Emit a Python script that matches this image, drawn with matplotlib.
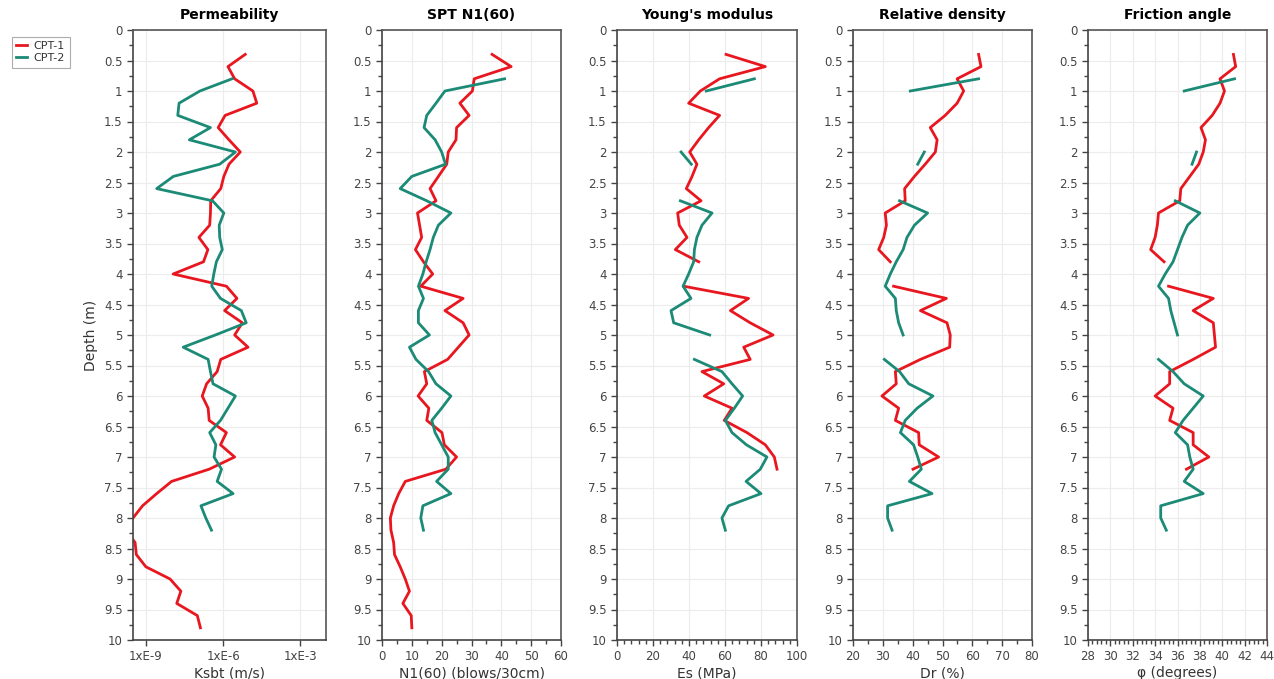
import numpy as np
import matplotlib
matplotlib.use("Agg")
import matplotlib.pyplot as plt
from matplotlib.ticker import MultipleLocator, NullLocator, FuncFormatter

nan = np.nan

# depths (m)
depth_1 = [0.4, 0.6, 0.8, 1.0, 1.2, 1.4, 1.6, 1.8, 2.0, 2.2, 2.4, 2.6, 2.8, 3.0, 3.2, 3.4,
           3.6, 3.8, 4.0, 4.2, 4.4, 4.6, 4.8, 5.0, 5.2, 5.4, 5.6, 5.8, 6.0, 6.2, 6.4, 6.6,
           6.8, 7.0, 7.2, 7.4, 7.6, 7.8, 8.0, 8.2, 8.4, 8.6, 8.8, 9.0, 9.2, 9.4, 9.6, 9.8]
depth_2 = [0.8, 1.0, 1.2, 1.4, 1.6, 1.8, 2.0, 2.2, 2.4, 2.6, 2.8, 3.0, 3.2, 3.4, 3.6, 3.8,
           4.0, 4.2, 4.4, 4.6, 4.8, 5.0, 5.2, 5.4, 5.6, 5.8, 6.0, 6.2, 6.4, 6.6, 6.8, 7.0,
           7.2, 7.4, 7.6, 7.8, 8.0, 8.2]

# permeability, log10(Ksbt in m/s)
logk_1 = [-5.14, -5.81, -5.55, -4.84, -4.69, -5.92, -6.19, -5.77, -5.33, -5.77, -5.97, -6.09,
          -6.48, -6.49, -6.52, -6.94, -6.59, -6.76, -7.94, -5.87, -5.46, -5.94, -5.25, -5.55,
          -5.03, -6.09, -6.23, -6.64, -6.81, -6.58, -6.54, -5.87, -6.10, -5.55, -6.54, -8.00,
          -8.58, -9.13, -9.50, -9.80, -9.42, -9.37, -9.00, -8.06, -7.64, -7.80, -7.00, -6.88]
logk_2 = [-5.65, -6.90, -7.71, -7.76, -6.49, -7.31, -5.52, -6.13, -7.93, -8.58, -6.41, -5.97,
          -6.15, -6.13, -6.03, -6.26, -6.36, -6.44, -6.10, -5.29, -5.10, -6.30, -7.55, -6.58,
          -6.49, -6.39, -5.52, -5.81, -6.10, -6.52, -6.28, -6.35, -6.06, -6.23, -5.61, -6.86,
          -6.67, -6.45]

# SPT N1(60)
spt_1 = [36.9, 43.3, 30.9, 30.3, 26.1, 29.2, 25.0, 24.8, 22.2, 21.7, 18.9, 16.1, 18.1, 11.9,
         12.6, 13.3, 11.2, 13.9, 17.0, 13.0, 27.2, 21.1, 27.2, 29.2, 25.6, 22.0, 14.2, 15.0,
         12.1, 15.7, 15.0, 20.1, 20.9, 25.0, 21.4, 7.8, 5.6, 3.9, 2.8, 3.0, 3.9, 4.2, 6.1, 7.8,
         9.2, 7.0, 9.8, 10.0]
spt_2 = [41.1, 21.1, 18.1, 15.0, 14.1, 17.8, 20.0, 21.3, 10.0, 6.1, 15.0, 23.1, 18.9, 17.2,
         16.1, 14.8, 13.7, 12.2, 13.9, 12.2, 12.2, 15.9, 9.2, 11.4, 15.6, 18.1, 23.1, 20.0,
         16.7, 17.8, 20.0, 22.2, 22.2, 18.3, 23.1, 13.7, 13.0, 13.9]

# Young's modulus Es (MPa)
es_1 = [60.6, 82.4, 57.0, 46.3, 39.8, 57.0, 50.9, 45.4, 40.4, 44.4, 41.7, 38.5, 46.7, 33.7,
        34.6, 38.9, 32.4, 45.4, nan, 37.0, 73.1, 63.0, 74.0, 86.7, 70.4, 74.0, 47.2, 59.3,
        48.5, 63.9, 59.6, 72.2, 82.4, 87.4, 88.9]
es_2 = [76.3, 49.6, nan, nan, nan, nan, 35.6, 41.3, nan, nan, 35.2, 52.8, 47.2, 44.4, 43.0,
        42.6, 39.8, 36.7, 41.1, 30.0, 31.5, 51.5, nan, 43.0, 58.3, 63.9, 69.8, 65.2, 60.2,
        63.9, 71.9, 83.3, 79.6, 71.7, 80.0, 62.0, 58.3, 60.2]

# Relative density Dr (%)
dr_1 = [62.1, 62.9, 54.9, 57.1, 54.9, 50.9, 45.9, 48.2, 47.6, 44.2, 40.6, 37.3, 37.5, 30.8,
        31.2, 30.3, 28.6, 32.5, nan, 33.6, 51.3, 42.6, 51.5, 52.6, 52.4, 42.6, 34.2, 34.5,
        29.7, 35.3, 34.2, 42.0, 42.2, 48.7, 40.1]
dr_2 = [62.1, 39.2, nan, nan, nan, nan, 43.9, 41.7, nan, nan, 35.6, 45.0, 40.6, 38.1, 36.8,
        34.5, 32.5, 30.8, 34.2, 34.5, 35.3, 36.8, nan, 30.5, 35.6, 38.7, 46.8, 41.5, 37.5,
        35.9, 40.3, 41.7, 42.9, 38.9, 46.5, 31.6, 31.6, 33.1]

# Friction angle (degrees)
phi_1 = [41.0, 41.2, 39.8, 40.2, 39.8, 39.1, 38.1, 38.5, 38.3, 37.9, 37.1, 36.3, 36.2, 34.3,
         34.2, 34.0, 33.6, 34.8, nan, 35.2, 39.2, 37.4, 39.2, 39.3, 39.4, 37.4, 35.3, 35.3,
         34.0, 35.6, 35.3, 37.4, 37.4, 38.8, 36.8]
phi_2 = [41.1, 36.6, nan, nan, nan, nan, 37.7, 37.3, nan, nan, 35.8, 38.0, 36.9, 36.4, 36.0,
         35.6, 34.9, 34.3, 35.2, 35.4, 35.7, 36.0, nan, 34.3, 35.6, 36.6, 38.3, 37.4, 36.5,
         35.8, 36.9, 37.1, 37.4, 36.6, 38.3, 34.5, 34.5, 35.0]

RED = "#e8171f"
GREEN = "#1b8a76"
TICK_C = "#444444"

fig = plt.figure(figsize=(12.74, 6.79), dpi=100)
W, H = 1274, 679
top_px, bot_px = 30, 640
lefts = [133, 382, 617, 853, 1088]
rights = [326, 561, 797, 1032, 1267]

titles = ["Permeability", "SPT N1(60)", "Young's modulus", "Relative density", "Friction angle"]
xlabels = ["Ksbt (m/s)", "N1(60) (blows/30cm)", "Es (MPa)", "Dr (%)", "\u03c6 (degrees)"]

series = [
    (10 ** np.array(logk_1), 10 ** np.array(logk_2)),
    (spt_1, spt_2),
    (es_1, es_2),
    (dr_1, dr_2),
    (phi_1, phi_2),
]

def depth_fmt(v, pos):
    return ("%g" % v)

axes = []
for i in range(5):
    ax = fig.add_axes([lefts[i] / W, 1 - bot_px / H, (rights[i] - lefts[i]) / W,
                       (bot_px - top_px) / H])
    axes.append(ax)
    s1, s2 = series[i]
    d1 = depth_1[:len(s1)]
    ax.plot(s1, d1, color=RED, lw=2, label="CPT-1")
    ax.plot(s2, depth_2, color=GREEN, lw=2, label="CPT-2")
    ax.set_ylim(10, 0)
    ax.yaxis.set_major_locator(MultipleLocator(0.5))
    ax.yaxis.set_minor_locator(MultipleLocator(0.25))
    ax.yaxis.set_major_formatter(FuncFormatter(depth_fmt))
    ax.set_title(titles[i], fontsize=10, fontweight="bold", pad=8)
    ax.set_xlabel(xlabels[i], fontsize=10, color="#333333", labelpad=2)
    ax.grid(True, which="major", color="#ececec", lw=0.8)
    ax.set_axisbelow(True)
    ax.tick_params(axis="both", which="major", labelsize=8.5, colors=TICK_C, length=4, width=1)
    ax.tick_params(axis="both", which="minor", length=3, width=1, colors=TICK_C)
    for sp in ["top", "right"]:
        ax.spines[sp].set_color("#555555")
        ax.spines[sp].set_linewidth(1.2)
    for sp in ["left", "bottom"]:
        ax.spines[sp].set_color("#444444")
        ax.spines[sp].set_linewidth(1.2)

# Permeability
ax = axes[0]
ax.set_xscale("log")
ax.set_xlim(10 ** -9.5, 10 ** -2)
ax.set_xticks([1e-9, 1e-6, 1e-3])
ax.set_xticklabels(["1xE-9", "1xE-6", "1xE-3"])
ax.xaxis.set_minor_locator(NullLocator())
ax.set_ylabel("Depth (m)", fontsize=10, color="#333333", labelpad=4)

# SPT
ax = axes[1]
ax.set_xlim(0, 60)
ax.xaxis.set_major_locator(MultipleLocator(10))
ax.xaxis.set_minor_locator(MultipleLocator(5))

# Young's modulus
ax = axes[2]
ax.set_xlim(0, 100)
ax.xaxis.set_major_locator(MultipleLocator(20))
ax.xaxis.set_minor_locator(MultipleLocator(4))

# Relative density
ax = axes[3]
ax.set_xlim(20, 80)
ax.xaxis.set_major_locator(MultipleLocator(10))
ax.xaxis.set_minor_locator(MultipleLocator(5))

# Friction angle
ax = axes[4]
ax.set_xlim(28, 44)
ax.xaxis.set_major_locator(MultipleLocator(2))
ax.xaxis.set_minor_locator(MultipleLocator(0.4))

handles, labels = axes[0].get_legend_handles_labels()
leg = fig.legend(handles, labels, loc="upper left", bbox_to_anchor=(6 / W, 1 - 31 / H),
                 fontsize=8, frameon=True, fancybox=False, handlelength=1.0,
                 borderpad=0.4, labelspacing=0.2, handletextpad=0.6)
leg.get_frame().set_edgecolor("#999999")
leg.get_frame().set_linewidth(0.8)
for t in leg.get_texts():
    t.set_color("#333333")

fig.savefig("out.png", dpi=100)
